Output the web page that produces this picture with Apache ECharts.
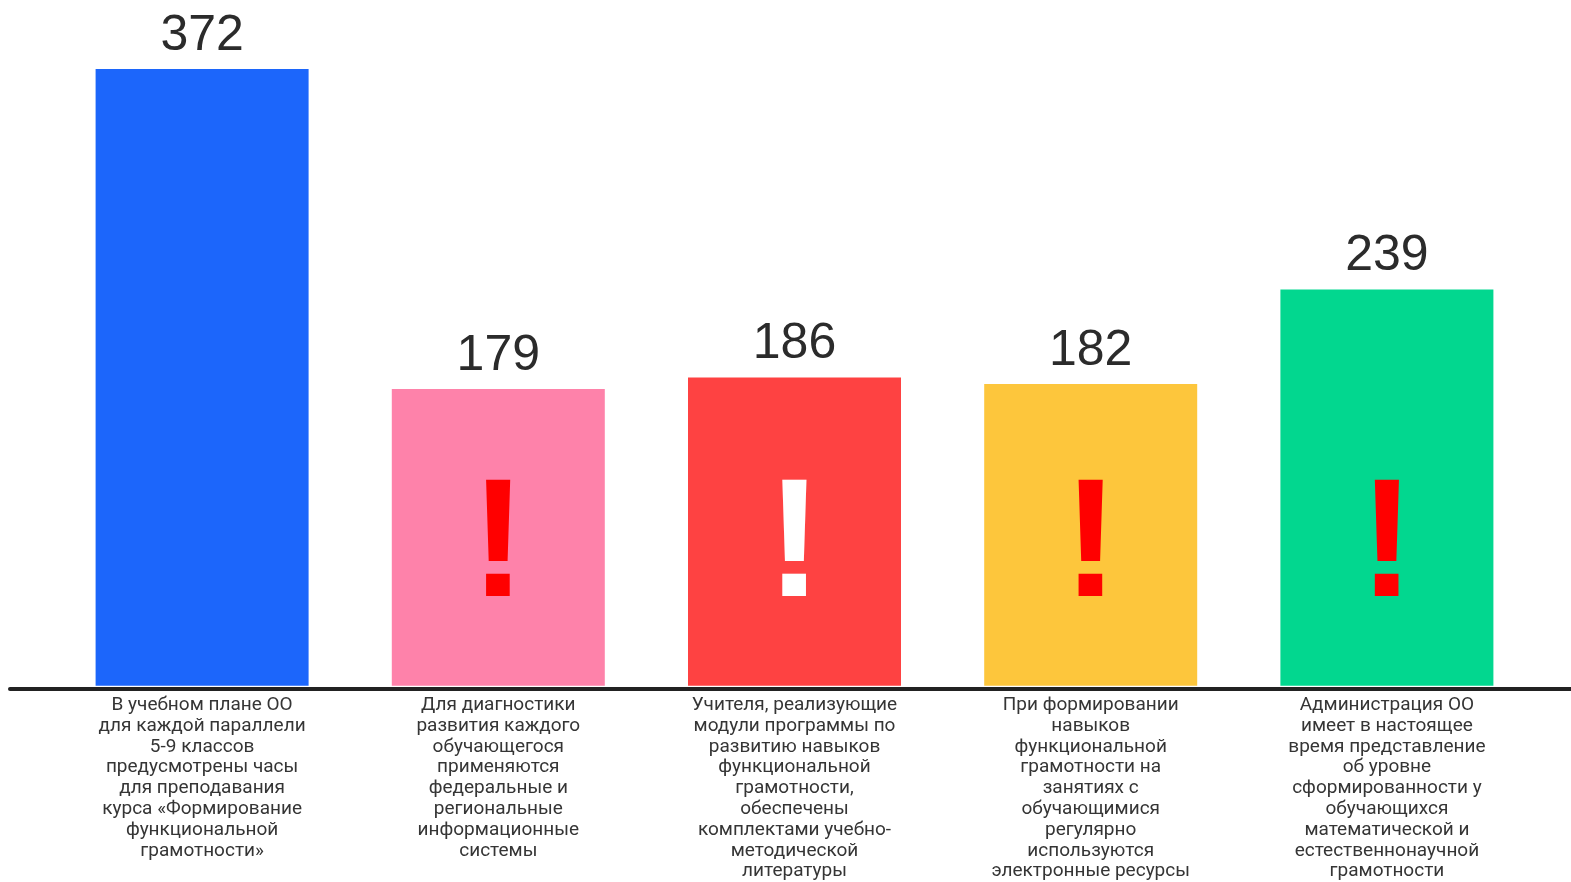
<!DOCTYPE html>
<html>
<head>
<meta charset="utf-8">
<script src="https://cdn.jsdelivr.net/npm/echarts@6/dist/echarts.min.js"></script>
<style>html,body{margin:0;padding:0;background:#fff;}#c{width:1571px;height:882px;}</style>
</head>
<body>
<div id="c"></div>
<script>
var categories = [
  'В учебном плане ОО\nдля каждой параллели\n5-9 классов\nпредусмотрены часы\nдля преподавания\nкурса «Формирование\nфункциональной\nграмотности»',
  'Для диагностики\nразвития каждого\nобучающегося\nприменяются\nфедеральные и\nрегиональные\nинформационные\nсистемы',
  'Учителя, реализующие\nмодули программы по\nразвитию навыков\nфункциональной\nграмотности,\nобеспечены\nкомплектами учебно-\nметодической\nлитературы',
  'При формировании\nнавыков\nфункциональной\nграмотности на\nзанятиях с\nобучающимися\nрегулярно\nиспользуются\nэлектронные ресурсы',
  'Администрация ОО\nимеет в настоящее\nвремя представление\nоб уровне\nсформированности у\nобучающихся\nматематической и\nестественнонаучной\nграмотности'
];
var values = [372, 179, 186, 182, 239];
var barColors = ['#1c66fb', '#fe82aa', '#fe4242', '#fdc63c', '#02d78f'];
var alertCategories = [1, 2, 3, 4];
var alertLevel = 82;
var alertColors = ['#ff0000', '#ffffff', '#ff0000', '#ff0000'];

var chart = echarts.init(document.getElementById('c'));
chart.setOption({
  animation: false,
  backgroundColor: '#ffffff',
  grid: [
    {left: 54, right: 36, top: 22.6, bottom: 195},
    {left: 10, right: 0, top: 22.6, bottom: 193}
  ],
  xAxis: [
    {
      type: 'category', gridIndex: 0, data: categories,
      axisLine: {show: false}, axisTick: {show: false},
      axisLabel: {
        interval: 0, margin: 9, color: '#353535',
        fontFamily: 'Roboto', fontSize: 19, lineHeight: 20.8, align: 'center'
      }
    },
    {
      type: 'category', gridIndex: 1, data: ['a'], z: 10,
      axisLine: {show: true, lineStyle: {color: '#222222', width: 4}},
      axisTick: {show: false}, axisLabel: {show: false}
    }
  ],
  yAxis: [
    {type: 'value', gridIndex: 0, min: 0, max: 400, show: false, splitLine: {show: false}},
    {type: 'value', gridIndex: 1, min: 0, max: 400, show: false, splitLine: {show: false}}
  ],
  series: [
    {
      type: 'bar', xAxisIndex: 0, yAxisIndex: 0, barWidth: 213,
      data: values.map(function (v, i) { return {value: v, itemStyle: {color: barColors[i]}}; }),
      label: {
        show: true, position: 'top', distance: 8,
        color: '#2b2b2b', fontFamily: 'Liberation Sans', fontSize: 50
      }
    },
    {
      type: 'scatter', xAxisIndex: 0, yAxisIndex: 0, symbolSize: 2, z: 5,
      itemStyle: {color: 'rgba(0,0,0,0)', opacity: 1},
      data: alertCategories.map(function (c, i) {
        return {
          value: [c, alertLevel],
          label: {color: alertColors[i]}
        };
      }),
      label: {
        show: true, position: 'inside', formatter: '!', opacity: 1,
        fontFamily: 'Liberation Sans', fontWeight: 'bold', fontSize: 168
      }
    }
  ]
});
</script>
</body>
</html>
